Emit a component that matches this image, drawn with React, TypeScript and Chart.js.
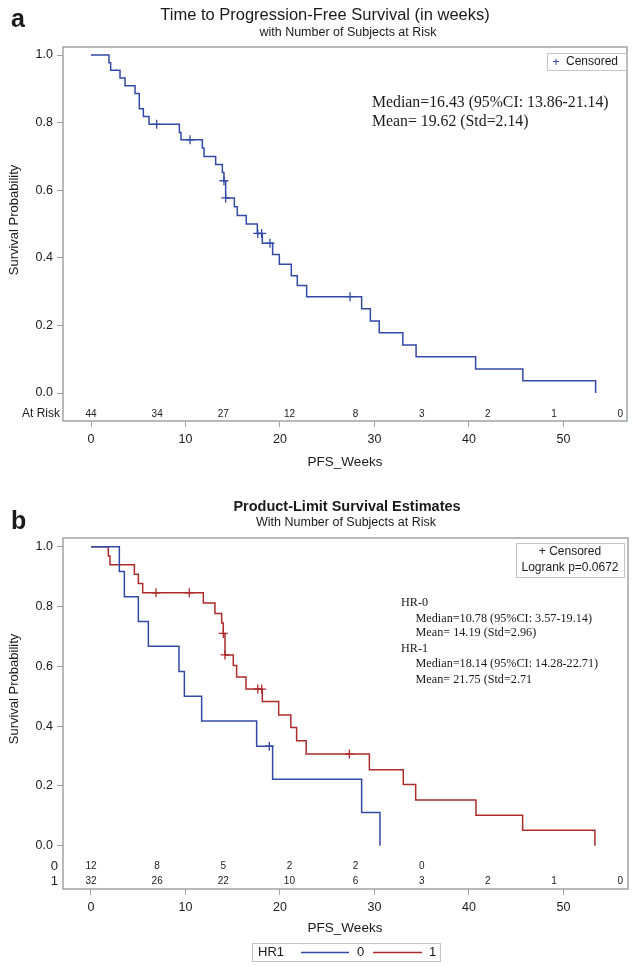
import { useEffect, useRef } from 'react';
import { Chart, registerables } from 'chart.js';
Chart.register(...registerables);

const SANS = "'Liberation Sans', Arial, sans-serif";
const SERIF = "'Liberation Serif', 'Times New Roman', serif";

// ---------- Panel a : all subjects ----------
const aTimes = [0, 1.9, 2.08, 3.07, 3.6, 4.66, 5.11, 5.54, 6.14, 9.35, 9.52, 11.78, 11.96, 13.19, 13.9, 14.07, 14.25, 15.17, 15.48, 16.43, 17.6, 18.13, 19.22, 19.93, 21.2, 21.83, 22.82, 28.64, 29.56, 30.5, 33.0, 34.4, 40.7, 45.7, 53.4];
const aSurv = [1, 0.977, 0.955, 0.932, 0.909, 0.886, 0.841, 0.818, 0.795, 0.771, 0.749, 0.725, 0.7, 0.676, 0.652, 0.628, 0.577, 0.551, 0.525, 0.5, 0.472, 0.443, 0.41, 0.381, 0.347, 0.318, 0.285, 0.249, 0.213, 0.178, 0.142, 0.107, 0.071, 0.036, 0];
const aCensorTimes = [6.95, 10.48, 14.07, 14.25, 17.64, 18.06, 18.94, 27.41];
const aCensorSurv = [0.795, 0.749, 0.628, 0.577, 0.472, 0.472, 0.443, 0.285];
const riskTimes = [0, 7, 14, 21, 28, 35, 42, 49, 56];
const aAtRisk = [44, 34, 27, 12, 8, 3, 2, 1, 0];

// ---------- Panel b : by HR1 ----------
const b0Times = [0, 3.0, 3.53, 5.01, 6.07, 9.31, 9.88, 11.71, 17.53, 19.22, 28.64, 30.58];
const b0Surv = [1, 0.917, 0.833, 0.75, 0.667, 0.583, 0.5, 0.417, 0.333, 0.222, 0.111, 0];
const b0CensorTimes = [18.87];
const b0CensorSurv = [0.333];
const b1Times = [0, 1.83, 2.01, 4.59, 5.01, 5.47, 11.89, 13.12, 13.83, 14.0, 14.18, 15.06, 15.41, 16.4, 18.13, 19.86, 21.15, 21.76, 22.77, 29.46, 33.05, 34.36, 40.74, 45.68, 53.33];
const b1Surv = [1, 0.969, 0.94, 0.908, 0.877, 0.846, 0.812, 0.777, 0.745, 0.71, 0.638, 0.603, 0.564, 0.524, 0.482, 0.437, 0.395, 0.351, 0.307, 0.254, 0.205, 0.153, 0.102, 0.052, 0];
const b1CensorTimes = [6.88, 10.4, 14.0, 14.18, 17.65, 18.06, 27.34];
const b1CensorSurv = [0.846, 0.846, 0.71, 0.638, 0.524, 0.524, 0.307];
const bAtRisk0 = [12, 8, 5, 2, 2, 0];
const bAtRisk1 = [32, 26, 22, 10, 6, 3, 2, 1, 0];

const xTicks = [0, 10, 20, 30, 40, 50];
const yTicks = [0, 0.2, 0.4, 0.6, 0.8, 1.0];

const BLUE = '#3349a6';
const RED = '#ad2b2b';
const FRAME = '#9ea3a9';
const INK = '#1a1a1a';

const zip = (xs: number[], ys: number[]) => xs.map((x, i) => ({ x, y: ys[i] }));

function txt(ctx: CanvasRenderingContext2D, s: string, x: number, y: number, font: string, align: CanvasTextAlign = 'left', color = INK) {
  ctx.save();
  ctx.font = font;
  ctx.fillStyle = color;
  ctx.textAlign = align;
  ctx.textBaseline = 'middle';
  ctx.fillText(s, x, y);
  ctx.restore();
}

function vtxt(ctx: CanvasRenderingContext2D, s: string, x: number, y: number, font: string) {
  ctx.save();
  ctx.translate(x, y);
  ctx.rotate(-Math.PI / 2);
  txt(ctx, s, 0, 0, font, 'center');
  ctx.restore();
}

function makeScales(xmin: number, xmax: number, ymin: number, ymax: number, xAxisH: number) {
  return {
    x: {
      type: 'linear', position: 'bottom', min: xmin, max: xmax,
      afterBuildTicks: (s: any) => { s.ticks = xTicks.map((v) => ({ value: v })); },
      afterFit: (s: any) => { s.height = xAxisH; },
      grid: { drawOnChartArea: false, drawTicks: true, tickLength: 6, color: FRAME, lineWidth: 1 },
      border: { display: false },
      ticks: { autoSkip: false, maxRotation: 0, padding: 5, color: INK, font: { family: SANS, size: 12.5 }, callback: (v: any) => String(v) },
    },
    y: {
      type: 'linear', position: 'left', min: ymin, max: ymax,
      afterBuildTicks: (s: any) => { s.ticks = yTicks.map((v) => ({ value: v })); },
      afterFit: (s: any) => { s.width = 63; },
      grid: { drawOnChartArea: false, drawTicks: true, tickLength: 6, color: FRAME, lineWidth: 1 },
      border: { display: false },
      ticks: { padding: 4, color: INK, font: { family: SANS, size: 12.5 }, callback: (v: any) => Number(v).toFixed(1) },
    },
  };
}

const framePlugin = {
  id: 'frame',
  beforeDatasetsDraw(chart: any) {
    const { ctx, chartArea: a } = chart;
    ctx.save();
    ctx.strokeStyle = FRAME;
    ctx.lineWidth = 1.5;
    ctx.strokeRect(a.left, a.top, a.right - a.left, a.bottom - a.top);
    ctx.restore();
  },
};

function PanelA() {
  const ref = useRef<HTMLCanvasElement>(null);
  useEffect(() => {
    const deco = {
      id: 'decoA',
      afterDraw(chart: any) {
        const ctx = chart.ctx as CanvasRenderingContext2D;
        const xs = chart.scales.x;
        const ys = chart.scales.y;
        txt(ctx, 'a', 11, 20, `bold 25px ${SANS}`);
        txt(ctx, 'Time to Progression-Free Survival (in weeks)', 325, 15, `16.5px ${SANS}`, 'center');
        txt(ctx, 'with Number of Subjects at Risk', 348, 33, `12.5px ${SANS}`, 'center');
        vtxt(ctx, 'Survival Probability', 14, 220, `13px ${SANS}`);
        txt(ctx, 'PFS_Weeks', 345, 462, `13.5px ${SANS}`, 'center');
        // censored legend
        ctx.save();
        ctx.strokeStyle = '#c4c4c4';
        ctx.lineWidth = 1;
        ctx.strokeRect(547.5, 53.5, 79, 17);
        ctx.restore();
        txt(ctx, '+', 556, 62, `13px ${SANS}`, 'center', BLUE);
        txt(ctx, 'Censored', 566, 62, `12px ${SANS}`);
        txt(ctx, 'Median=16.43 (95%CI: 13.86-21.14)', 372, 103, `15.8px ${SERIF}`);
        txt(ctx, 'Mean= 19.62 (Std=2.14)', 372, 122, `15.8px ${SERIF}`);
        // at risk row
        const yr = ys.getPixelForValue(-0.0621);
        txt(ctx, 'At Risk', 60, yr, `12px ${SANS}`, 'right');
        riskTimes.forEach((t, i) => txt(ctx, String(aAtRisk[i]), xs.getPixelForValue(t), yr, `10px ${SANS}`, 'center'));
      },
    };
    const chart = new Chart(ref.current!, {
      type: 'line',
      data: {
        datasets: [
          { data: zip(aTimes, aSurv), stepped: true, borderColor: BLUE, borderWidth: 1.5, pointRadius: 0, fill: false } as any,
          { type: 'scatter', data: zip(aCensorTimes, aCensorSurv), pointStyle: 'cross', pointRadius: 4.5, borderColor: BLUE, backgroundColor: BLUE, borderWidth: 1.3 } as any,
        ],
      },
      options: {
        responsive: false,
        animation: false,
        layout: { padding: { top: 47, right: 10, left: 0, bottom: 0 } },
        plugins: { legend: { display: false }, tooltip: { enabled: false } },
        scales: makeScales(-2.963, 56.72, -0.08284, 1.02367, 62) as any,
      },
      plugins: [framePlugin, deco],
    });
    return () => chart.destroy();
  }, []);
  return <canvas ref={ref} width={637} height={483} style={{ display: 'block' }} />;
}

function PanelB() {
  const ref = useRef<HTMLCanvasElement>(null);
  useEffect(() => {
    const deco = {
      id: 'decoB',
      afterDraw(chart: any) {
        const ctx = chart.ctx as CanvasRenderingContext2D;
        const xs = chart.scales.x;
        const ys = chart.scales.y;
        txt(ctx, 'b', 11, 39, `bold 25px ${SANS}`);
        txt(ctx, 'Product-Limit Survival Estimates', 347, 24, `bold 14.5px ${SANS}`, 'center');
        txt(ctx, 'With Number of Subjects at Risk', 346, 40, `12.5px ${SANS}`, 'center');
        vtxt(ctx, 'Survival Probability', 14, 206, `13px ${SANS}`);
        txt(ctx, 'PFS_Weeks', 345, 445, `13.5px ${SANS}`, 'center');
        // inset legend
        ctx.save();
        ctx.strokeStyle = '#c4c4c4';
        ctx.lineWidth = 1;
        ctx.strokeRect(516.5, 60.5, 108, 34);
        ctx.restore();
        txt(ctx, '+ Censored', 570, 69, `12px ${SANS}`, 'center');
        txt(ctx, 'Logrank p=0.0672', 570, 85, `12px ${SANS}`, 'center');
        const f = `12.2px ${SERIF}`;
        txt(ctx, 'HR-0', 401, 120, f);
        txt(ctx, 'Median=10.78 (95%CI: 3.57-19.14)', 415.5, 136, f);
        txt(ctx, 'Mean= 14.19 (Std=2.96)', 415.5, 150, f);
        txt(ctx, 'HR-1', 401, 166, f);
        txt(ctx, 'Median=18.14 (95%CI: 14.28-22.71)', 415.5, 181, f);
        txt(ctx, 'Mean= 21.75 (Std=2.71', 415.5, 197, f);
        // at risk rows
        const y0 = ys.getPixelForValue(-0.0679);
        const y1 = ys.getPixelForValue(-0.1181);
        txt(ctx, '0', 58, y0, `13px ${SANS}`, 'right');
        txt(ctx, '1', 58, y1, `13px ${SANS}`, 'right');
        bAtRisk0.forEach((n, i) => txt(ctx, String(n), xs.getPixelForValue(riskTimes[i]), y0, `10px ${SANS}`, 'center'));
        bAtRisk1.forEach((n, i) => txt(ctx, String(n), xs.getPixelForValue(riskTimes[i]), y1, `10px ${SANS}`, 'center'));
        // bottom legend
        ctx.save();
        ctx.strokeStyle = '#c4c4c4';
        ctx.lineWidth = 1;
        ctx.strokeRect(252.5, 460.5, 188, 18);
        ctx.lineWidth = 1.5;
        ctx.strokeStyle = BLUE;
        ctx.beginPath(); ctx.moveTo(301, 469.5); ctx.lineTo(349, 469.5); ctx.stroke();
        ctx.strokeStyle = RED;
        ctx.beginPath(); ctx.moveTo(373, 469.5); ctx.lineTo(422, 469.5); ctx.stroke();
        ctx.restore();
        txt(ctx, 'HR1', 258, 469.5, `13px ${SANS}`);
        txt(ctx, '0', 357, 469.5, `13px ${SANS}`);
        txt(ctx, '1', 429, 469.5, `13px ${SANS}`);
      },
    };
    const chart = new Chart(ref.current!, {
      type: 'line',
      data: {
        datasets: [
          { data: zip(b0Times, b0Surv), stepped: true, borderColor: BLUE, borderWidth: 1.5, pointRadius: 0, fill: false } as any,
          { data: zip(b1Times, b1Surv), stepped: true, borderColor: RED, borderWidth: 1.5, pointRadius: 0, fill: false } as any,
          { type: 'scatter', data: zip(b0CensorTimes, b0CensorSurv), pointStyle: 'cross', pointRadius: 4.5, borderColor: BLUE, backgroundColor: BLUE, borderWidth: 1.3 } as any,
          { type: 'scatter', data: zip(b1CensorTimes, b1CensorSurv), pointStyle: 'cross', pointRadius: 4.5, borderColor: RED, backgroundColor: RED, borderWidth: 1.3 } as any,
        ],
      },
      options: {
        responsive: false,
        animation: false,
        layout: { padding: { top: 55, right: 9, left: 0, bottom: 0 } },
        plugins: { legend: { display: false }, tooltip: { enabled: false } },
        scales: makeScales(-2.963, 56.83, -0.1448, 1.0291, 77) as any,
      },
      plugins: [framePlugin, deco],
    });
    return () => chart.destroy();
  }, []);
  return <canvas ref={ref} width={637} height={483} style={{ display: 'block' }} />;
}

export default function App() {
  return (
    <div style={{ position: 'absolute', left: 0, top: 0, width: 637, height: 966, background: '#fff' }}>
      <PanelA />
      <PanelB />
    </div>
  );
}
